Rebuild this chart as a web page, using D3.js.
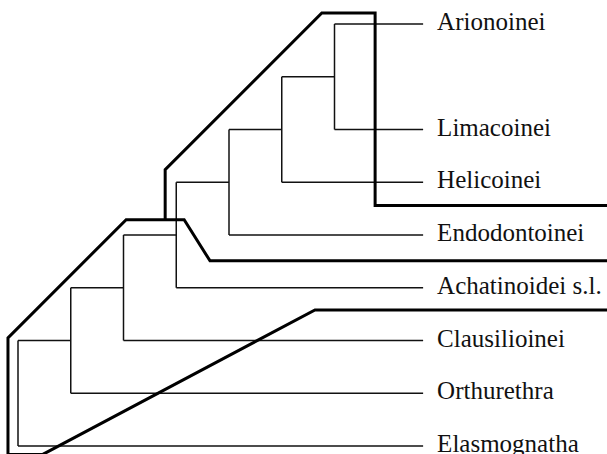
<!DOCTYPE html>
<html><head><meta charset="utf-8">
<script src="https://cdn.jsdelivr.net/npm/d3@7"></script>
<style>html,body{margin:0;padding:0;background:#fff;}svg{display:block;}
text.lbl{font-family:"Liberation Serif","Times New Roman",Times,serif;font-size:25px;fill:#111;}</style>
</head><body>
<svg id="chart" width="607" height="454"></svg>
<script>
// Taxa (leaves), top to bottom, and their vertical slot (one empty slot below Arionoinei)
const taxa = ["Arionoinei","Limacoinei","Helicoinei","Endodontoinei","Achatinoidei s.l.","Clausilioinei","Orthurethra","Elasmognatha"];
const taxonSlot = [0, 2, 3, 4, 5, 6, 7, 8];
// Ladderized topology: ((((((((Arionoinei,Limacoinei),Helicoinei),Endodontoinei),Achatinoidei),Clausilioinei),Orthurethra),Elasmognatha)
// depth of each internal node, from the innermost (Arionoinei+Limacoinei) to the root
const nodeDepth = [6, 5, 4, 3, 2, 1, 0];
const leafDepth = 7.68;
// Thick outline paths in (depth, slot) units
const upperOutline = [[2.79,3.71],[2.79,2.76],[5.76,-0.21],[6.77,-0.21],[6.77,3.44],[11.3,3.44]];
const lowerOutline = [[11.3,4.49],[3.64,4.49],[3.15,3.71],[2.05,3.71],[-0.19,5.95],[-0.19,8.16],[0.47,8.16],[5.63,5.42],[11.3,5.42]];

const svg = d3.select("#chart");
const x = d3.scaleLinear().domain([0, 1]).range([18, 70.75]);
const y = d3.scaleLinear().domain([0, 8]).range([24, 446]);

// build hierarchy
let clade = {name: taxa[0], slot: taxonSlot[0], leaf: true};
let inner = null;
taxa.slice(1).forEach((t, i) => {
  const leaf = {name: t, slot: taxonSlot[i+1], leaf: true};
  if (i === 0) {
    inner = {depth: nodeDepth[0], children: [clade, leaf]};
  } else {
    inner = {depth: nodeDepth[i], children: [inner, leaf]};
  }
});
const root = d3.hierarchy(inner);
root.eachAfter(n => {
  if (n.data.leaf) { n.py = y(n.data.slot); n.px = x(leafDepth); }
  else {
    n.px = x(n.data.depth);
    n.py = d3.mean(n.children, c => c.py);
  }
});

const g = svg.append("g");
// vertical bars for internal nodes
root.descendants().filter(n => n.children).forEach(n => {
  const ys = n.children.map(c => c.py);
  g.append("line").attr("x1", n.px).attr("x2", n.px)
    .attr("y1", d3.min(ys)).attr("y2", d3.max(ys))
    .attr("stroke", "#111").attr("stroke-width", 1.5);
});
// horizontal branches
root.descendants().filter(n => n.parent).forEach(n => {
  g.append("line").attr("x1", n.parent.px).attr("x2", n.px)
    .attr("y1", n.py).attr("y2", n.py)
    .attr("stroke", "#111").attr("stroke-width", 1.5);
});

// outlines
const line = d3.line().x(d => x(d[0])).y(d => y(d[1]));
[upperOutline, lowerOutline].forEach(p => {
  svg.append("path").attr("d", line(p)).attr("fill", "none")
    .attr("stroke", "#000").attr("stroke-width", 3).attr("stroke-linejoin", "miter");
});

// labels
root.leaves().forEach(n => {
  svg.append("text").attr("class", "lbl").attr("x", n.px + 14).attr("y", n.py + 6)
    .text(n.data.name);
});
</script>
</body></html>
